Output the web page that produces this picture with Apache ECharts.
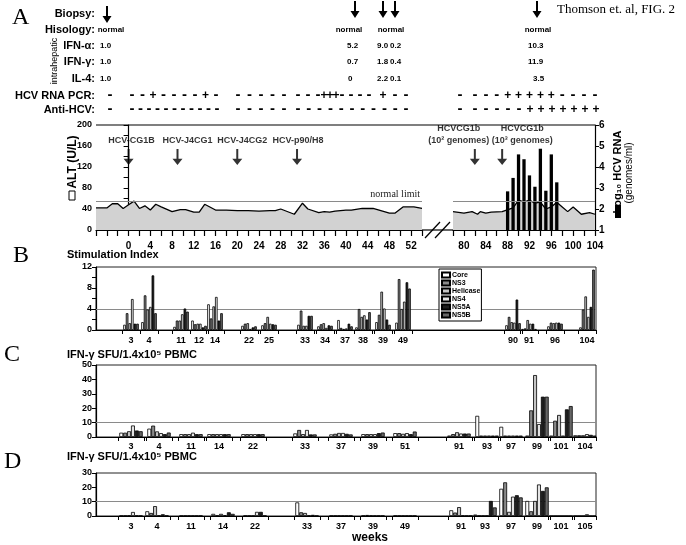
<!DOCTYPE html>
<html><head><meta charset="utf-8">
<script src="https://cdn.jsdelivr.net/npm/echarts@6/dist/echarts.min.js"></script>
<style>html,body{margin:0;padding:0;background:#fff}#c{width:686px;height:545px}</style>
</head><body><div id="c"></div>
<script>
// ================= DATA =================
// Panel A: ALT (U/L) by week, two segments (axis break between 54 and 78)
const altWeeks1 = [-6,-4,-3,-2,-1,0,1,2,3,4,5,6,8,9.5,10.5,12,13,14,16,18,20,22,24,26,27,28,30.5,32,33,35,36,37,38,40,41,43,45,48,49,50.5,52.5,54];
const altValues1 = [42,42,50,50,41,48,55,41,46,38,49,44,35,39,39,34,34,49,38,38,37,37,36,37,37,40,30,51,40,33,35,34,36,38,38,41,41,32,32,44,44,41];
const altWeeks2 = [78,80,81.5,82.5,83,84,85,87,89,90,91,92,93,94,95,96,97,98,99,100,101.5,103,104];
const altValues2 = [35,32,35,30,35,32,34,35,42,57,53,57,51,53,40,44,53,44,35,44,30,33,30];
const rnaWeeks = [88,89,90,91,92,93,94,95,96,97];
const rnaLog10 = [2.84,3.48,4.6,4.37,3.6,3.06,4.87,2.87,4.6,3.27];
const normalLimit = 55;
const inocLabels1 = ['HCV-CG1B','HCV-J4CG1','HCV-J4CG2','HCV-p90/H8'];
const inocWeeks1 = [0,9,20,31];
const inocLabels2 = ['HCVCG1b\n(10² genomes)','HCVCG1b\n(10³ genomes)'];
const inocWeeks2 = [82,87];

// Header table
const rowLabels = ['Biopsy:','Hisology:','IFN-α:','IFN-γ:','IL-4:','HCV RNA PCR:','Anti-HCV:'];
const histology = ['normal','normal','normal','normal'];
const ifnAlpha = ['1.0','5.2','9.0','0.2','10.3'];
const ifnGamma = ['1.0','0.7','1.8','0.4','11.9'];
const il4 = ['1.0','0','2.2','0.1','3.5'];
const pcrRow  = '-' + '--+----+-' + '-----' + '---+++----+--' + '-' + '---+++++----';
const antiRow = '-' + '-----------' + '-----' + '-----------' + '-' + '-----+++++++';

// Antigens
const antigens = ['Core','NS3','Helicase','NS4','NS5A','NS5B'];

// Panel B: Stimulation index
const bWeeks = ['3','4','11','12','14','22','25','33','34','37','38','39','49','90','91','96','104'];
const bCore     = [1.0,1.5,0.6,1.8,4.9,0.8,0.9,1.0,0.7,1.9,0.5,1.5,1.4,0.9,0.2,0.7,0.5];
const bNS3      = [3.2,6.6,1.8,1.1,2.2,1.2,1.3,3.7,1.1,0.4,4.0,2.9,9.7,2.5,0.3,1.4,3.9];
const bHelicase = [1.3,3.9,1.8,1.2,4.5,1.3,2.5,0.8,1.3,0.2,2.5,7.3,4.0,1.5,1.9,1.3,6.4];
const bNS4      = [5.9,4.4,3.0,1.2,6.3,0.2,1.2,0.8,0.4,0.3,2.8,4.1,5.4,1.4,1.2,1.4,2.5];
const bNS5A     = [1.2,10.4,4.1,0.5,1.8,0.5,1.1,2.7,0.9,1.2,2.0,2.0,9.1,5.8,1.2,1.4,4.4];
const bNS5B     = [1.2,3.2,3.5,0.8,3.2,0.7,1.0,2.7,0.8,0.7,3.4,1.0,7.9,1.3,0.2,1.2,11.5];

// Panel C: IFN-γ SFU
const cWeeks = ['3','4','11','14','22','33','37','39','51','91','93','97','99','101','104'];
const cCore     = [3.0,5.8,2.0,2.0,2.0,2.5,1.8,2.0,2.7,1.0,14.7,7.1,1.0,1.0,1.2];
const cNS3      = [3.0,7.9,2.0,2.0,2.0,4.9,2.2,2.0,2.7,2.0,1.0,1.0,18.5,11.3,1.2];
const cHelicase = [4.0,3.9,2.0,2.0,2.0,2.0,2.8,2.0,2.2,3.3,1.0,1.0,43.0,15.3,1.2];
const cNS4      = [8.0,2.7,3.0,2.0,2.0,4.9,2.8,2.0,2.7,2.4,1.0,1.0,9.0,1.0,2.0];
const cNS5A     = [4.5,2.0,2.0,2.0,2.0,1.8,2.2,2.7,2.0,2.4,1.0,1.0,28.0,19.2,1.5];
const cNS5B     = [4.0,3.1,2.0,2.0,2.0,1.8,1.8,3.1,3.8,2.4,1.0,1.0,28.0,21.5,1.0];

// Panel D: IFN-γ SFU
const dWeeks = ['3','4','11','14','22','33','37','39','49','91','93','97','99','101','105'];
const dCore     = [0.2,3.3,0.2,1.5,0.2,9.5,0.2,0.2,0.2,4.0,1.0,19.0,10.5,0,0];
const dNS3      = [0.2,2.1,0.2,0.3,0.2,2.6,0.2,0.7,0.2,2.4,0.2,23.5,3.3,0,0];
const dHelicase = [0.3,6.9,0.2,1.5,0.2,2.1,0.2,0.3,0.2,6.2,0.2,2.9,10.5,0,0];
const dNS4      = [2.8,0.3,0.2,0.5,2.9,0.3,0.2,0.2,0.2,0.3,0.2,13.5,22.0,0,1.2];
const dNS5A     = [0.3,1.2,0.2,2.6,2.9,0.8,0.2,0.2,0.2,0.2,10.5,14.5,17.5,0,0];
const dNS5B     = [0.2,0.3,0.2,1.5,0.2,0.2,0.2,0.2,0.2,0.2,6.0,13.0,20.0,0,0];

// ================= LAYOUT (positions / styles) =================
const FONT = "'Liberation Sans', Arial, Helvetica, sans-serif";
const SERIF = "'Liberation Serif', 'Times New Roman', serif";
const N = 250; // fine slots on B/C/D category axes
const bSlots = [17,26,42,51,59,76,86,104,114,124,133,143,153,208,216,229,245];
const cSlots = [17,31,47,61,78,104,122,138,154,181,195,207,220,232,244];
const dSlots = [17,30,47,63,79,105,122,138,154,182,194,207,220,232,244];
const ARROW_Y = 139;
const inocOffset1 = [3,10,5,1];
const inocOffset2 = [-16,20];
const rowY = [14,30,46,62,79,96,110];
const biopsyX = [107,355,383,395,537];
const biopsyTop = [6,1,1,1,1];
const histX = [111,349,391,538];
const cytoX = [100,347,377,390,528];
const il4X = [100,348,377,390,533];
const pcrX = [110, 132,142.5,153,163.5,174,184.5,195,205.5,216, 238,249.5,261,272.5,284,
  298,308,318,324,330,336,342,351,360,369,383,395,406, 460,
  475,485.9,496.8,507.7,518.6,529.5,540.4,551.3,562.2,573.1,584,594.9];
const antiX = [110, 132,140.5,149,157.5,166,174.5,183,191.5,200,208.5,217, 238,249.5,261,272.5,284,
  298,308.8,319.6,330.4,341.2,352,362.8,373.6,384.4,395.2,406, 460,
  475,486,497,508,519,530,541,552,563,574,585,596];
const antigenStyles = [
  {color:'#ffffff'}, {color:'#8a8a8a'}, {color:'#c4c4c4'},
  {color:'#e4e4e4'}, {color:'#1e1e1e'}, {color:'#666666'}
];

function slotArray(slots, vals){ const a = new Array(N).fill('-'); slots.forEach((s,i)=>{ a[s] = vals[i]; }); return a; }
function slotCats(slots, labels){ const a = new Array(N).fill(''); slots.forEach((s,i)=>{ a[s] = labels[i]; }); return a; }
function tickSet(slots, l, r){ const s = new Set(); slots.forEach(v=>{ s.add(v-l); s.add(v+r); }); return s; }
function zip(a,b){ return a.map((v,i)=>[v,b[i]]); }

const ticksB = tickSet(bSlots,4,5), ticksC = tickSet(cSlots,6,7), ticksD = tickSet(dSlots,6,7);
const lbl = (size)=>({color:'#000', fontFamily:FONT, fontWeight:'bold', fontSize:size});
const axLine = {show:true, lineStyle:{color:'#000', width:1.2}};

// ---------- graphic helpers ----------
function T(x, y, text, size, opt){
  opt = opt || {};
  const align = opt.align || 'left';
  return {type:'text', x:x, y:y, rotation: opt.rot || 0, silent:true, z:10,
    style:{text:text, font:(opt.weight||'bold')+' '+size+'px '+(opt.family||FONT), fill:'#000',
      textAlign:align, align:align, textVerticalAlign:'middle', verticalAlign:'middle'}};
}
function arrowPoly(cx, top){
  return {type:'polygon', silent:true, z:10, shape:{points:[[cx-1,top],[cx+1,top],[cx+1,top+10],[cx+4.5,top+10],[cx,top+17],[cx-4.5,top+10],[cx-1,top+10]]}, style:{fill:'#000'}};
}
const ARROW = 'M4,0 L6,0 L6,12 L10,12 L5,20 L0,12 L4,12 Z';
const graphics = [];
graphics.push(T(12,18,'A',24,{weight:'normal',family:SERIF}));
graphics.push(T(13,256,'B',24,{weight:'normal',family:SERIF}));
graphics.push(T(4,355,'C',24,{weight:'normal',family:SERIF}));
graphics.push(T(4,462,'D',24,{weight:'normal',family:SERIF}));
graphics.push(T(557,10,'Thomson et. al, FIG. 2',13,{weight:'normal',family:SERIF}));
rowLabels.forEach((t,i)=>graphics.push(T(95,rowY[i],t,11,{align:'right'})));
graphics.push(T(55,61,'intrahepatic',9,{weight:'normal',align:'center',rot:Math.PI/2}));
biopsyX.forEach((x,i)=>graphics.push(arrowPoly(x, biopsyTop[i])));
histology.forEach((t,i)=>graphics.push(T(histX[i],rowY[1],t,8,{align:'center'})));
ifnAlpha.forEach((t,i)=>graphics.push(T(cytoX[i],rowY[2],t,8)));
ifnGamma.forEach((t,i)=>graphics.push(T(cytoX[i],rowY[3],t,8)));
il4.forEach((t,i)=>graphics.push(T(il4X[i],rowY[4],t,8)));
function markRow(str, xs, y){
  for (let i=0;i<str.length;i++){
    const ch = str[i];
    graphics.push(T(xs[i], ch==='-'? y-1 : y, ch, ch==='-'?15:12, {align:'center'}));
  }
}
markRow(pcrRow, pcrX, rowY[5]);
markRow(antiRow, antiX, rowY[6]);
// panel A decorations: top frame, axis break
graphics.push({type:'line', silent:true, shape:{x1:96,y1:125,x2:595,y2:125}, style:{stroke:'#000',lineWidth:1.2}});
graphics.push({type:'line', silent:true, shape:{x1:422,y1:230,x2:453,y2:230}, style:{stroke:'#000',lineWidth:1.2}});
graphics.push({type:'line', silent:true, shape:{x1:425,y1:238,x2:440,y2:222}, style:{stroke:'#000',lineWidth:1.2}});
graphics.push({type:'line', silent:true, shape:{x1:435,y1:238,x2:450,y2:222}, style:{stroke:'#000',lineWidth:1.2}});
// axis titles panel A
graphics.push(T(73,162,'ALT (U/L)',12,{align:'center',rot:Math.PI/2}));
graphics.push({type:'rect', silent:true, shape:{x:69,y:191,width:6,height:9}, style:{fill:'#fff',stroke:'#000',lineWidth:1}});
graphics.push(T(618,172,'Log₁₀ HCV RNA',11,{align:'center',rot:Math.PI/2}));
graphics.push(T(629,173,'(genomes/ml)',10,{align:'center',rot:Math.PI/2,weight:'normal'}));
graphics.push({type:'rect', silent:true, shape:{x:615,y:205,width:6,height:13}, style:{fill:'#000'}});
// panel titles
graphics.push(T(67,255,'Stimulation Index',11));
graphics.push(T(67,355,'IFN-γ SFU/1.4x10⁵ PBMC',11));
graphics.push(T(67,457,'IFN-γ SFU/1.4x10⁵ PBMC',11));
graphics.push(T(352,538,'weeks',12));

// ---------- series ----------
const series = [];
// Panel A, segment 1
series.push({type:'line', xAxisIndex:0, yAxisIndex:0, data:zip(altWeeks1,altValues1), symbol:'none',
  lineStyle:{color:'#000',width:1.3}, areaStyle:{color:'#d2d2d2',opacity:1}, z:2,
  markLine:{silent:true, symbol:'none', lineStyle:{color:'#8a8a8a',width:1,type:'solid'},
    label:{show:true, position:'insideEndTop', formatter:'normal limit', fontFamily:SERIF, fontSize:10, color:'#222', distance:2},
    data:[{yAxis:normalLimit}]}});
series.push({type:'scatter', xAxisIndex:0, yAxisIndex:0, symbol:'path://'+ARROW, symbolSize:[10,16], itemStyle:{color:'#000'}, z:5,
  data: inocWeeks1.map((w,i)=>({value:[w,ARROW_Y], label:{offset:[inocOffset1[i],0]}})),
  label:{show:true, position:'top', distance:4, formatter:p=>inocLabels1[p.dataIndex], ...lbl(9)}});
// Panel A, segment 2
series.push({type:'line', xAxisIndex:1, yAxisIndex:2, data:zip(altWeeks2,altValues2), symbol:'none',
  lineStyle:{width:0}, areaStyle:{color:'#d2d2d2',opacity:1}, z:1,
  markLine:{silent:true, symbol:'none', lineStyle:{color:'#8a8a8a',width:1,type:'solid'}, label:{show:false}, data:[{yAxis:normalLimit}]}});
series.push({type:'bar', xAxisIndex:1, yAxisIndex:1, data:zip(rnaWeeks,rnaLog10), barWidth:3.3, itemStyle:{color:'#000'}, z:2});
series.push({type:'line', xAxisIndex:1, yAxisIndex:2, data:zip(altWeeks2,altValues2), symbol:'none',
  lineStyle:{color:'#000',width:1.3}, z:3});
series.push({type:'scatter', xAxisIndex:1, yAxisIndex:2, symbol:'path://'+ARROW, symbolSize:[10,16], itemStyle:{color:'#000'}, z:5,
  data: inocWeeks2.map((w,i)=>({value:[w,ARROW_Y], label:{offset:[inocOffset2[i],0]}})),
  label:{show:true, position:'top', distance:3, lineHeight:12, formatter:p=>inocLabels2[p.dataIndex], ...lbl(9)}});

function addBars(xi, yi, slots, vals, bw, refY){
  antigens.forEach((name,k)=>{
    const s = {type:'bar', name:name, xAxisIndex:xi, yAxisIndex:yi, data:slotArray(slots, vals[k]),
      barWidth:bw, barGap:'0%', itemStyle:{color:antigenStyles[k].color, borderColor:'#000', borderWidth:0.8}, z:3};
    if (k===0) s.markLine = {silent:true, symbol:'none', label:{show:false}, lineStyle:{color:'#8a8a8a',width:1,type:'solid'}, data:[{yAxis:refY}], z:1};
    series.push(s);
  });
}
addBars(2,3,bSlots,[bCore,bNS3,bHelicase,bNS4,bNS5A,bNS5B],2.6,4);
addBars(3,4,cSlots,[cCore,cNS3,cHelicase,cNS4,cNS5A,cNS5B],3.9,10);
addBars(4,5,dSlots,[dCore,dNS3,dHelicase,dNS4,dNS5A,dNS5B],3.9,10);

const catAxis = (gi, slots, weeks, ticks, margin)=>({type:'category', gridIndex:gi, data:slotCats(slots,weeks), boundaryGap:true,
  axisLine:axLine, axisTick:{show:true, length:4, interval:(i)=>ticks.has(i), lineStyle:{color:'#000'}},
  axisLabel:{interval:0, margin:margin, ...lbl(9)}, splitLine:{show:false}});
const valY = (gi, min, max, interval, fmt, extra)=>Object.assign({type:'value', gridIndex:gi, min:min, max:max, interval:interval,
  axisLine:axLine, axisTick:{show:true, length:4, lineStyle:{color:'#000'}},
  axisLabel:{margin:4, formatter:fmt, ...lbl(9)}, splitLine:{show:false}}, extra||{});

const option = {
  animation:false,
  backgroundColor:'#fff',
  textStyle:{fontFamily:FONT},
  legend:{data:antigens, orient:'vertical', left:439, top:269, icon:'rect', itemWidth:8, itemHeight:5, itemGap:0,
    padding:[2,1,2,2], borderColor:'#000', borderWidth:1, backgroundColor:'#fff', selectedMode:false,
    textStyle:{fontSize:7, fontWeight:'bold', color:'#000', lineHeight:8, padding:[0,0,0,-3]}},
  grid:[
    {left:96, top:125, width:326, height:105},
    {left:453, top:125, width:142, height:105},
    {left:96, top:267, width:500, height:63, show:true, borderColor:'#222', borderWidth:1},
    {left:96, top:365, width:500, height:72, show:true, borderColor:'#222', borderWidth:1},
    {left:96, top:473, width:500, height:43, show:true, borderColor:'#222', borderWidth:1}
  ],
  xAxis:[
    {type:'value', gridIndex:0, min:-6, max:54, interval:2, axisLine:axLine,
      axisTick:{show:true, length:6, lineStyle:{color:'#000',width:1.2}},
      axisLabel:{margin:11, formatter:v=>(v>=0 && v%4===0)? String(v):'', ...lbl(10)}, splitLine:{show:false}},
    {type:'value', gridIndex:1, min:78, max:104, interval:2, axisLine:axLine,
      axisTick:{show:true, length:6, lineStyle:{color:'#000',width:1.2}},
      axisLabel:{margin:11, formatter:v=>(v%4===0)? String(v):'', ...lbl(10)}, splitLine:{show:false}},
    catAxis(2,bSlots,bWeeks,ticksB,6),
    catAxis(3,cSlots,cWeeks,ticksC,5),
    catAxis(4,dSlots,dWeeks,ticksD,6)
  ],
  yAxis:[
    valY(0,0,200,20,v=>(v%40===0)? String(v):'', {axisTick:{show:true,length:5,lineStyle:{color:'#000'}}}),
    valY(1,1,6,1,v=>String(v), {position:'right', axisLabel:{margin:4, ...lbl(10)}}),
    {type:'value', gridIndex:1, min:0, max:200, show:false},
    valY(2,0,12,2,v=>(v%4===0)? String(v):''),
    valY(3,0,50,10,v=>String(v)),
    valY(4,0,30,10,v=>String(v))
  ],
  series:series,
  graphic:graphics
};
const chart = echarts.init(document.getElementById('c'), null, {renderer:'canvas'});
chart.setOption(option);
</script>
</body></html>
